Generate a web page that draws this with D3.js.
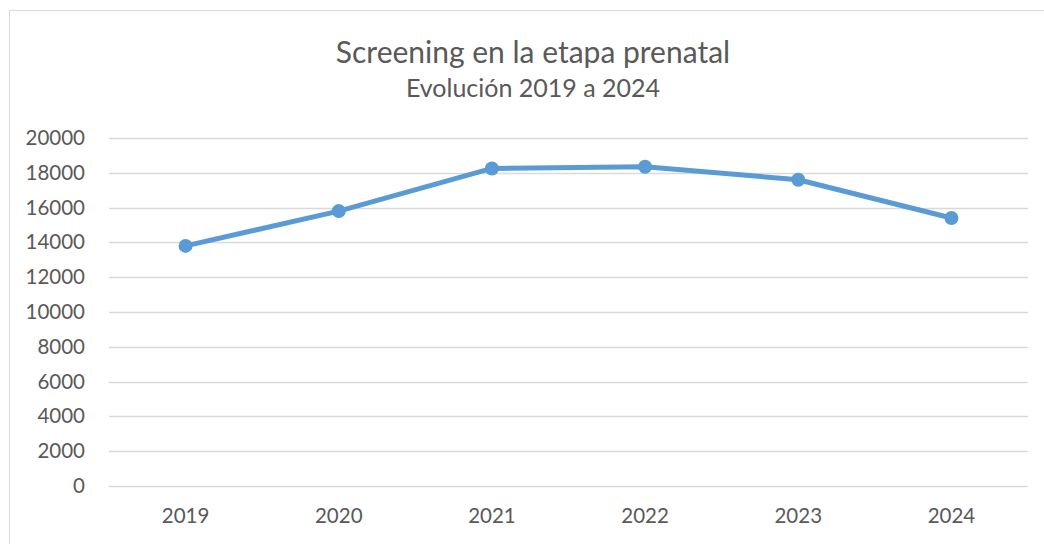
<!DOCTYPE html>
<html>
<head>
<meta charset="utf-8">
<script src="https://cdn.jsdelivr.net/npm/d3@7"></script>
<style>
  body { margin: 0; background: #fff; }
  svg text { font-family: Lato, "Open Sans", sans-serif; fill: #595959; }
</style>
</head>
<body>
<svg id="chart"></svg>
<script>
// data
const years = ["2019", "2020", "2021", "2022", "2023", "2024"];
const screenings = [13800, 15800, 18250, 18350, 17600, 15400];
const yTicks = [0, 2000, 4000, 6000, 8000, 10000, 12000, 14000, 16000, 18000, 20000];

const W = 1044, H = 544;
const margin = {top: 138, right: 16, bottom: 58, left: 109};
const width = W - margin.left - margin.right;
const height = H - margin.top - margin.bottom;

const svg = d3.select("#chart").attr("width", W).attr("height", H);

// chart border
svg.append("rect")
    .attr("x", 9.5).attr("y", 10.5)
    .attr("width", W + 10).attr("height", H + 10)
    .attr("fill", "none")
    .attr("stroke", "#d9d9d9").attr("stroke-width", 1);

// titles
svg.append("text")
    .attr("x", 533).attr("y", 63)
    .attr("text-anchor", "middle")
    .style("font-size", "30px")
    .text("Screening en la etapa prenatal");
svg.append("text")
    .attr("x", 533).attr("y", 97)
    .attr("text-anchor", "middle")
    .style("font-size", "25px")
    .text("Evolución 2019 a 2024");

const g = svg.append("g")
    .attr("transform", "translate(" + margin.left + "," + margin.top + ")");

let x = d3.scaleBand().domain(years).range([0, width]);
let y = d3.scaleLinear().domain([0, 20000]).range([height, 0]);

// gridlines
g.selectAll("line.grid")
    .data(yTicks)
    .enter().append("line")
    .attr("class", "grid")
    .attr("x1", 0).attr("x2", width)
    .attr("y1", d => Math.round(y(d)) + 0.5)
    .attr("y2", d => Math.round(y(d)) + 0.5)
    .attr("stroke", "#d9d9d9").attr("stroke-width", 1.5);

// y axis labels
let yAxis = g.append("g")
    .call(d3.axisLeft(y).tickValues(yTicks).tickFormat(d3.format("d")).tickSize(0).tickPadding(24));
yAxis.select(".domain").remove();
yAxis.selectAll("text").style("font-size", "20.5px").attr("fill", "#595959");

// x axis labels
let xAxis = g.append("g")
    .attr("transform", "translate(0," + height + ")")
    .call(d3.axisBottom(x).tickSize(0).tickPadding(22));
xAxis.select(".domain").remove();
xAxis.selectAll("text").style("font-size", "20.5px").attr("fill", "#595959");

// series line
let line = d3.line()
    .x((d, i) => x(years[i]) + x.bandwidth() / 2)
    .y(d => y(d));

g.append("path")
    .datum(screenings)
    .attr("d", line)
    .attr("fill", "none")
    .attr("stroke", "#5b9bd5")
    .attr("stroke-width", 5)
    .attr("stroke-linejoin", "round");

g.selectAll("circle.pt")
    .data(screenings)
    .enter().append("circle")
    .attr("class", "pt")
    .attr("cx", (d, i) => x(years[i]) + x.bandwidth() / 2)
    .attr("cy", d => y(d))
    .attr("r", 7)
    .attr("fill", "#5b9bd5");
</script>
</body>
</html>
